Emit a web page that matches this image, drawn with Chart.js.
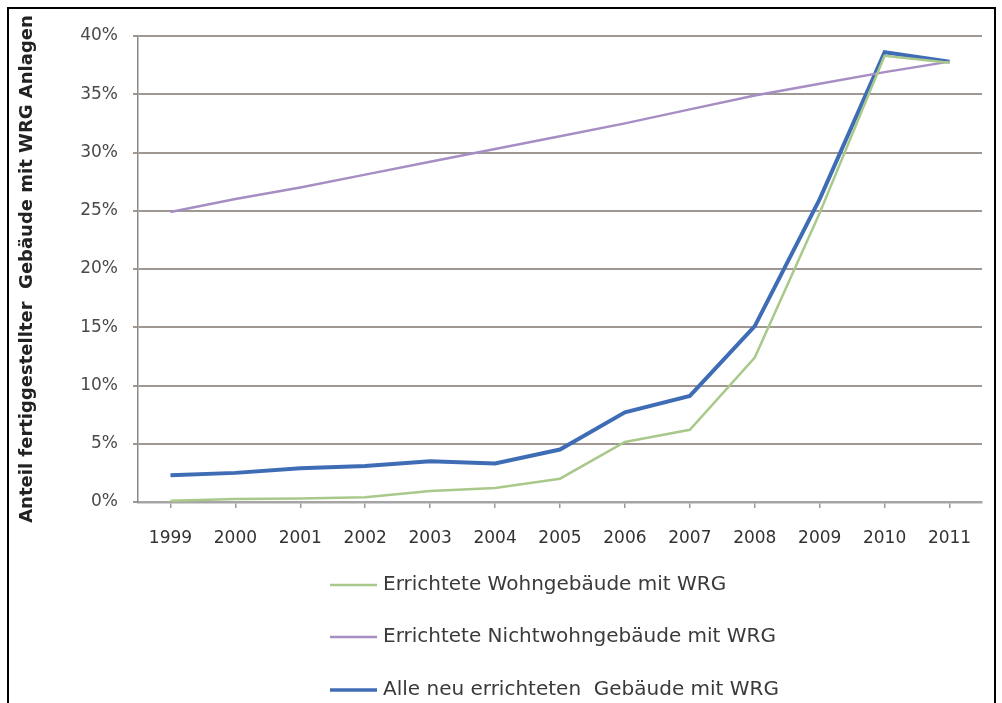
<!DOCTYPE html>
<html>
<head>
<meta charset="utf-8">
<script src="https://cdn.jsdelivr.net/npm/chart.js@4"></script>
<style>
    html, body { margin: 0; padding: 0; background: #fff; }
    #wrap { position: relative; width: 1002px; height: 703px; overflow: hidden; }
    #frame { position: absolute; left: 7px; top: 7px; width: 989px; height: 730px; border: 2px solid #000; box-sizing: border-box; pointer-events: none; }
    canvas { position: absolute; left: 0; top: 0; }
</style>
</head>
<body>
<div id="wrap">
    <canvas id="chart" width="1002" height="703"></canvas>
    <div id="frame"></div>
</div>
<script>
let years = ["1999", "2000", "2001", "2002", "2003", "2004", "2005", "2006", "2007", "2008", "2009", "2010", "2011"];
// Anteil in Prozent
let wohnValues = [0.1, 0.25, 0.3, 0.4, 0.95, 1.2, 2.0, 5.15, 6.2, 12.4, 24.8, 38.3, 37.7];
let nichtWohnValues = [24.9, 26.0, 27.0, 28.1, 29.2, 30.3, 31.4, 32.5, 33.7, 34.9, 35.9, 36.9, 37.8];
let alleValues = [2.3, 2.5, 2.9, 3.1, 3.5, 3.3, 4.5, 7.7, 9.1, 15.1, 26.0, 38.6, 37.8];
let seriesLabels = [
    "Errichtete Wohngebäude mit WRG",
    "Errichtete Nichtwohngebäude mit WRG",
    "Alle neu errichteten  Gebäude mit WRG"
];
let yAxisTitle = "Anteil fertiggestellter  Gebäude mit WRG Anlagen";

Chart.defaults.font.family = '"DejaVu Sans", sans-serif';

// Legende als Liste unter der Achse
const listLegend = {
    id: 'listLegend',
    afterDraw(chart) {
        const ctx = chart.ctx;
        ctx.save();
        ctx.font = '20px "DejaVu Sans", sans-serif';
        ctx.textBaseline = 'middle';
        ctx.textAlign = 'left';
        const rows = [585, 637, 690];
        chart.data.datasets.forEach((ds, i) => {
            const y = rows[i];
            ctx.strokeStyle = ds.borderColor;
            ctx.lineWidth = ds.legendWidth;
            ctx.beginPath();
            ctx.moveTo(330, y);
            ctx.lineTo(377, y);
            ctx.stroke();
            ctx.fillStyle = '#3a3a3a';
            ctx.fillText(ds.label, 383, y);
        });
        ctx.restore();
    }
};

let ctx = document.getElementById('chart').getContext('2d');
let chart = new Chart(ctx, {
    type: 'line',
    data: {
        labels: years,
        datasets: [{
            label: seriesLabels[0],
            data: wohnValues,
            borderColor: '#a9c98b',
            borderWidth: 2.5,
            legendWidth: 2.5,
            pointRadius: 0,
            tension: 0
        },
        {
            label: seriesLabels[1],
            data: nichtWohnValues,
            borderColor: '#a68ec4',
            borderWidth: 2.5,
            legendWidth: 2.5,
            pointRadius: 0,
            tension: 0
        },
        {
            label: seriesLabels[2],
            data: alleValues,
            borderColor: '#3f6db5',
            borderWidth: 4,
            legendWidth: 3.5,
            pointRadius: 0,
            tension: 0
        }]
    },
    options: {
        responsive: false,
        animation: false,
        layout: {
            padding: { left: 10, top: 36, right: 20, bottom: 0 }
        },
        plugins: {
            legend: { display: false },
            tooltip: { enabled: false }
        },
        scales: {
            x: {
                offset: true,
                afterFit: (scale) => { scale.height = 201; },
                grid: {
                    drawOnChartArea: false,
                    drawTicks: true,
                    tickLength: 6,
                    color: '#9a9a9a',
                    lineWidth: 1.5
                },
                border: { display: true, color: '#a5a5a5', width: 2.5 },
                ticks: {
                    color: '#333',
                    font: { size: 17 },
                    padding: 20,
                    maxRotation: 0,
                    autoSkip: false
                }
            },
            y: {
                min: 0,
                max: 40,
                afterFit: (scale) => { scale.width = 128; },
                grid: {
                    color: '#9e9792',
                    lineWidth: 2,
                    tickLength: 5
                },
                border: { display: true, color: '#8a8a8a', width: 1.5 },
                ticks: {
                    stepSize: 5,
                    color: '#4a4a4a',
                    font: { size: 17 },
                    padding: 15,
                    callback: (v) => v + '%'
                },
                title: {
                    display: true,
                    text: yAxisTitle,
                    color: '#222',
                    font: { size: 18, weight: 'bold' },
                    padding: { top: 7, bottom: 0 }
                }
            }
        }
    },
    plugins: [listLegend]
});
</script>
</body>
</html>
